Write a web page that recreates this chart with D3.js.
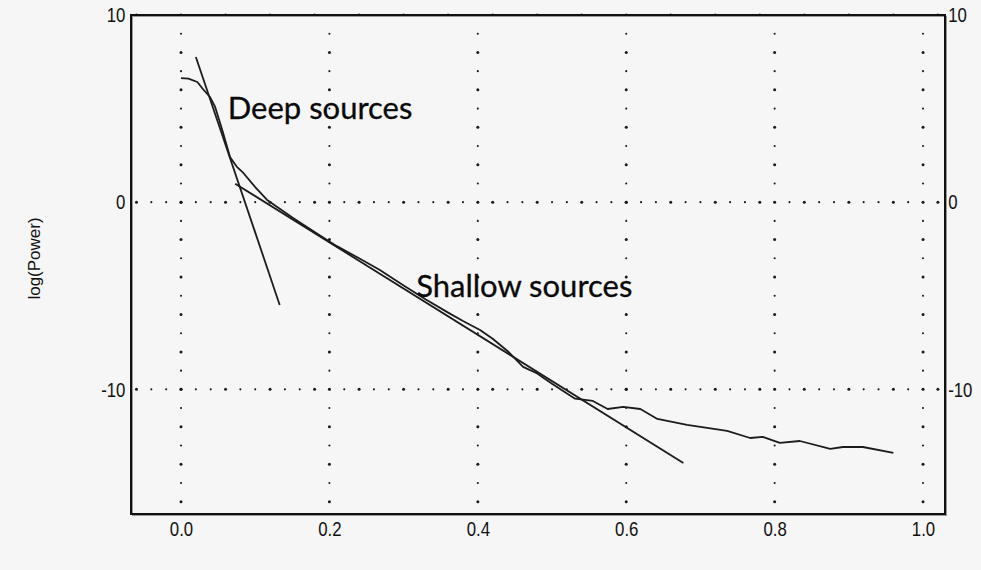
<!DOCTYPE html>
<html>
<head>
<meta charset="utf-8">
<script src="https://cdn.jsdelivr.net/npm/d3@7"></script>
<style>
  html, body { margin: 0; padding: 0; background: #f6f6f6; }
  svg { display: block; }
</style>
</head>
<body>
<script>
// Frequency ticks (bottom) and log-power ticks (left / right)
const xTicks = [0.0, 0.2, 0.4, 0.6, 0.8, 1.0];
const yTicks = [10, 0, -10];

// Radially averaged power spectrum: [wavenumber, log(Power)]
const spectrum = [
  [0.000, 6.63], [0.010, 6.60], [0.022, 6.42], [0.030, 6.02], [0.039, 5.62],
  [0.046, 5.09], [0.056, 3.80], [0.066, 2.41], [0.075, 1.90], [0.084, 1.56],
  [0.100, 0.80], [0.116, 0.12], [0.135, -0.40], [0.151, -0.84], [0.180, -1.60],
  [0.210, -2.35], [0.240, -3.00], [0.268, -3.62], [0.300, -4.45], [0.330, -5.20],
  [0.360, -5.90], [0.380, -6.35], [0.403, -6.83], [0.420, -7.30], [0.440, -7.95],
  [0.461, -8.80], [0.480, -9.15], [0.500, -9.70], [0.531, -10.50], [0.555, -10.62],
  [0.575, -11.05], [0.596, -10.94], [0.619, -11.05], [0.642, -11.58], [0.682, -11.90],
  [0.736, -12.22], [0.767, -12.60], [0.784, -12.54], [0.807, -12.86], [0.834, -12.76],
  [0.875, -13.18], [0.892, -13.08], [0.919, -13.08], [0.960, -13.40]
];

// Straight-line fits for the two source depths
const deepFit = [[0.020, 7.76], [0.133, -5.49]];
const shallowFit = [[0.073, 0.99], [0.677, -13.93]];

// Annotation labels: [text, x, y at baseline]
const annotations = [
  ["Deep sources", 0.063, 4.44],
  ["Shallow sources", 0.317, -5.06]
];

const W = 981, H = 570;
const svg = d3.select("body").append("svg").attr("width", W).attr("height", H);

const x = d3.scaleLinear().domain([-0.0674, 1.0296]).range([131, 945]);
const y = d3.scaleLinear().domain([-16.66, 10]).range([514, 15]);

// Dotted grid: horizontal rows every 0.02 in x, vertical columns every 1 in y
const dotG = svg.append("g").attr("fill", "#1a1a1a");
const xDots = d3.range(-3, 52).map(k => k * 0.02);
yTicks.forEach(v => {
  dotG.selectAll(null).data(xDots).join("circle")
    .attr("cx", d => x(d)).attr("cy", y(v))
    .attr("r", (d, i) => (i % 3 === 0 ? 1.5 : 1.05));
});
const yDots = d3.range(-16, 10);
xTicks.forEach(u => {
  dotG.selectAll(null).data(yDots).join("circle")
    .attr("cx", x(u)).attr("cy", d => y(d))
    .attr("r", (d, i) => (i % 2 === 0 ? 1.5 : 1.05));
});

// Plot frame with a soft shadow on the lower / right edges
svg.append("rect")
  .attr("x", x.range()[0] + 1.5).attr("y", y.range()[1] + 1.5)
  .attr("width", x.range()[1] - x.range()[0]).attr("height", y.range()[0] - y.range()[1])
  .attr("fill", "none").attr("stroke", "#9a9a9a").attr("stroke-width", 1);
svg.append("rect")
  .attr("x", x.range()[0]).attr("y", y.range()[1])
  .attr("width", x.range()[1] - x.range()[0]).attr("height", y.range()[0] - y.range()[1])
  .attr("fill", "none").attr("stroke", "#111").attr("stroke-width", 2);

// Axes (labels only, frame drawn above)
const plain = d => String(+d.toFixed(1));
const gx = svg.append("g").attr("transform", `translate(0,${y.range()[0]})`)
  .call(d3.axisBottom(x).tickValues(xTicks).tickFormat(d3.format(".1f")).tickSize(0).tickPadding(7));
const gl = svg.append("g").attr("transform", `translate(${x.range()[0]},0)`)
  .call(d3.axisLeft(y).tickValues(yTicks).tickFormat(plain).tickSize(0).tickPadding(7));
const gr = svg.append("g").attr("transform", `translate(${x.range()[1]},0)`)
  .call(d3.axisRight(y).tickValues(yTicks).tickFormat(plain).tickSize(0).tickPadding(4));
[gx, gl, gr].forEach(g => {
  g.attr("font-family", "Liberation Sans, Arial, sans-serif").attr("font-size", 21);
  g.select(".domain").remove();
  g.selectAll(".tick text").attr("fill", "#111").attr("transform", "scale(0.8,1)");
});

// Y axis title
svg.append("text")
  .attr("transform", `translate(40,${(y.range()[0] + y.range()[1]) / 2 - 6}) rotate(-90)`)
  .attr("text-anchor", "middle")
  .attr("font-family", "Liberation Sans, Arial, sans-serif")
  .attr("font-size", 17)
  .attr("fill", "#111")
  .text("log(Power)");

// Curves
const line = d3.line().x(d => x(d[0])).y(d => y(d[1]));
const lineG = svg.append("g").attr("fill", "none").attr("stroke", "#1c1c1c")
  .attr("stroke-width", 1.8).attr("stroke-linejoin", "round");
lineG.append("path").attr("d", line(spectrum));
lineG.append("path").attr("d", line(deepFit));
lineG.append("path").attr("d", line(shallowFit));

// Annotations
svg.selectAll(".ann").data(annotations).join("text")
  .attr("class", "ann")
  .attr("x", d => x(d[1])).attr("y", d => y(d[2]))
  .attr("font-family", "Lato, 'Open Sans', sans-serif")
  .attr("font-size", 31)
  .attr("fill", "#0a0a0a")
  .attr("stroke", "#0a0a0a").attr("stroke-width", 0.3)
  .text(d => d[0]);
</script>
</body>
</html>
